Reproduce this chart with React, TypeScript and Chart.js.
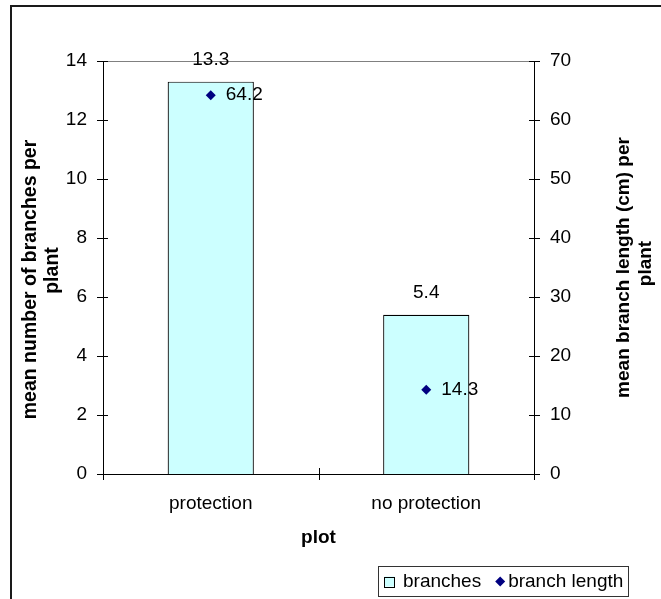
import React, { useEffect, useRef } from "react";
import { Chart, registerables } from "chart.js";

Chart.register(...registerables);

// ---- data ----
const categories = ["protection", "no protection"];
const branches = [13.3, 5.4];
const branchLength = [64.2, 14.3];
const seriesNames = ["branches", "branch length"];
const leftTitle = ["mean number of branches per", "plant"];
const rightTitle = ["mean branch length (cm) per", "plant"];
const xTitle = "plot";

// ---- styling ----
const FONT = "'Liberation Sans', Arial, sans-serif";
const FONT_SIZE = 19;
const BAR_FILL = "#CCFFFF";
const POINT_COLOR = "#000080";

const W = 661;
const H = 599;

function hline(ctx: CanvasRenderingContext2D, x1: number, x2: number, y: number, color: string) {
  ctx.strokeStyle = color;
  ctx.lineWidth = 1;
  ctx.beginPath();
  const yy = Math.round(y) + 0.5;
  ctx.moveTo(x1, yy);
  ctx.lineTo(x2, yy);
  ctx.stroke();
}

function vline(ctx: CanvasRenderingContext2D, x: number, y1: number, y2: number, color: string) {
  ctx.strokeStyle = color;
  ctx.lineWidth = 1;
  ctx.beginPath();
  const xx = Math.round(x) + 0.5;
  ctx.moveTo(xx, y1);
  ctx.lineTo(xx, y2);
  ctx.stroke();
}

function diamond(ctx: CanvasRenderingContext2D, x: number, y: number, r: number) {
  ctx.beginPath();
  ctx.moveTo(x, y - r);
  ctx.lineTo(x + r, y);
  ctx.lineTo(x, y + r);
  ctx.lineTo(x - r, y);
  ctx.closePath();
  ctx.fillStyle = POINT_COLOR;
  ctx.fill();
}

const decorPlugin = {
  id: "decor",
  afterDraw(chart: any) {
    const ctx: CanvasRenderingContext2D = chart.ctx;
    const { left, right, top, bottom } = chart.chartArea;
    const xs = chart.scales.x;
    const ys = chart.scales.y;
    const ys1 = chart.scales.y1;
    ctx.save();

    // outer frame (runs past the canvas on the right and bottom)
    ctx.strokeStyle = "#1a1a1a";
    ctx.lineWidth = 2;
    ctx.strokeRect(11, 6, W + 40, H + 40);

    // plot-area top edge and axes
    hline(ctx, left, right, top, "#808080");
    vline(ctx, left, top, bottom + 1, "#000");
    vline(ctx, right, top, bottom + 1, "#000");
    hline(ctx, left, right + 1, bottom, "#000");

    // tick marks crossing the axes
    ys.ticks.forEach((t: any) => {
      const py = ys.getPixelForValue(t.value);
      hline(ctx, left - 6, left + 5, py, "#000");
    });
    ys1.ticks.forEach((t: any) => {
      const py = ys1.getPixelForValue(t.value);
      hline(ctx, right - 5, right + 6, py, "#000");
    });
    for (let i = 0; i <= categories.length; i++) {
      const px = xs.getPixelForValue(i - 0.5);
      vline(ctx, px, bottom - 6, bottom + 6, "#000");
    }

    // value labels
    ctx.fillStyle = "#000";
    ctx.font = `${FONT_SIZE}px ${FONT}`;
    ctx.textBaseline = "middle";
    ctx.textAlign = "center";
    branches.forEach((v, i) => {
      const px = xs.getPixelForValue(i);
      const py = ys.getPixelForValue(v);
      ctx.fillText(String(v), px, py - 22);
    });
    ctx.textAlign = "left";
    branchLength.forEach((v, i) => {
      const px = xs.getPixelForValue(i);
      const py = ys1.getPixelForValue(v);
      ctx.fillText(String(v), px + 15, py);
    });

    // axis titles
    ctx.textAlign = "center";
    const cy = (top + bottom) / 2;
    const drawRotated = (lines: string[], xs0: number[], ys0: number[]) => {
      lines.forEach((line, i) => {
        ctx.save();
        ctx.translate(xs0[i], ys0[i]);
        ctx.rotate(-Math.PI / 2);
        ctx.fillText(line, 0, 0);
        ctx.restore();
      });
    };
    ctx.font = `bold 19.5px ${FONT}`;
    drawRotated(leftTitle, [31, 53], [cy + 12, cy + 3]);
    ctx.font = `bold ${FONT_SIZE}px ${FONT}`;
    drawRotated(rightTitle, [624, 646], [cy, cy - 4]);
    ctx.fillText(xTitle, (left + right) / 2, 538);

    // legend
    const lx = 378;
    const ly = 566;
    const lw = 250;
    const lh = 30;
    ctx.strokeStyle = "#333";
    ctx.lineWidth = 1;
    ctx.strokeRect(lx + 0.5, ly + 0.5, lw, lh);
    const my = ly + lh / 2 + 0.5;
    ctx.fillStyle = BAR_FILL;
    ctx.fillRect(lx + 6.5, my - 5, 10, 10);
    ctx.strokeStyle = "#000";
    ctx.strokeRect(lx + 6.5, Math.round(my - 5) + 0.5, 10, 10);
    ctx.font = `${FONT_SIZE}px ${FONT}`;
    ctx.fillStyle = "#000";
    ctx.textAlign = "left";
    let cx = lx + 25;
    ctx.fillText(seriesNames[0], cx, my);
    cx += ctx.measureText(seriesNames[0]).width + 15;
    diamond(ctx, cx + 4, my, 5);
    cx += 12;
    ctx.fillStyle = "#000";
    ctx.fillText(seriesNames[1], cx, my);

    ctx.restore();
  },
};

export default function App() {
  const ref = useRef<HTMLCanvasElement | null>(null);

  useEffect(() => {
    if (!ref.current) return;
    const tickFont = { family: FONT, size: FONT_SIZE };
    const noGrid = { display: false, drawTicks: false, tickLength: 0 };
    const chart = new Chart(ref.current, {
      type: "bar",
      data: {
        labels: categories,
        datasets: [
          {
            type: "line",
            label: seriesNames[1],
            data: branchLength,
            yAxisID: "y1",
            showLine: false,
            pointStyle: "rectRot",
            pointRadius: 5,
            pointBackgroundColor: POINT_COLOR,
            pointBorderColor: POINT_COLOR,
            pointBorderWidth: 0,
            backgroundColor: POINT_COLOR,
            borderColor: POINT_COLOR,
            order: 0,
          } as any,
          {
            type: "bar",
            label: seriesNames[0],
            data: branches,
            yAxisID: "y",
            backgroundColor: BAR_FILL,
            borderColor: "#000",
            borderWidth: 1.2,
            barPercentage: 0.4,
            categoryPercentage: 1,
            order: 1,
          },
        ],
      },
      options: {
        responsive: false,
        animation: false,
        layout: { padding: { top: 61, left: 0, right: 0, bottom: 0 } },
        plugins: {
          legend: { display: false },
          tooltip: { enabled: false },
        },
        scales: {
          x: {
            type: "category",
            offset: true,
            grid: noGrid,
            border: { display: false },
            ticks: { color: "#000", font: tickFont, padding: 18, maxRotation: 0, autoSkip: false },
            afterFit: (s: any) => {
              s.height = 125;
            },
          },
          y: {
            position: "left",
            min: 0,
            max: 14,
            grid: noGrid,
            border: { display: false },
            ticks: { stepSize: 2, color: "#000", font: tickFont, padding: 16 },
            afterFit: (s: any) => {
              s.width = 103;
            },
          },
          y1: {
            position: "right",
            min: 0,
            max: 70,
            grid: noGrid,
            border: { display: false },
            ticks: { stepSize: 10, color: "#000", font: tickFont, padding: 16 },
            afterFit: (s: any) => {
              s.width = 127;
            },
          },
        },
      },
      plugins: [decorPlugin],
    });
    return () => chart.destroy();
  }, []);

  return (
    <div style={{ position: "fixed", left: 0, top: 0, width: W, height: H, background: "#fff" }}>
      <canvas ref={ref} width={W} height={H} style={{ display: "block", width: W, height: H }} />
    </div>
  );
}
